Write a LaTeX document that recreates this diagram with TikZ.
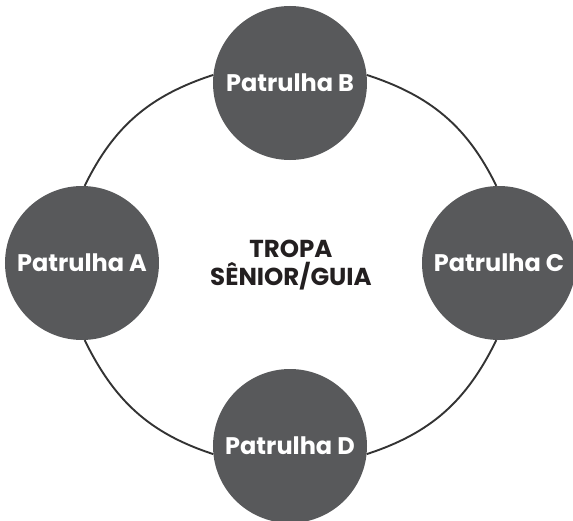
\documentclass[tikz,border=0pt]{standalone}
\usepackage{fontspec}
\setmainfont{Poppins}
\usepackage{tikz}
\definecolor{patrolgray}{HTML}{58595B}
\definecolor{ringgray}{HTML}{333333}
\definecolor{tropablack}{HTML}{231F20}

\begin{document}
\begin{tikzpicture}[x=1pt, y=1pt,
  patrol/.style={circle, fill=patrolgray, minimum size=154pt, inner sep=0pt, text=white, font=\bfseries\fontsize{24}{28}\selectfont},
  ring/.style={draw=ringgray, line width=1.9pt}]
  \useasboundingbox (-290,-257) rectangle (283,263);
  \node (tropa) [align=center, text=tropablack, font=\bfseries\fontsize{24.5}{28}\selectfont] at (1,-2) {TROPA\\SÊNIOR/GUIA};
  \node (patB) [patrol] at (0,180) {Patrulha B};
  \node (patA) [patrol] at (-208,0) {Patrulha A};
  \node (patC) [patrol] at (209,0) {Patrulha C};
  \node (patD) [patrol] at (0,-183) {Patrulha D};
  \draw[ring] (patB.174) to[out=198, in=64] (patA.88);
  \draw[ring] (patB.6) to[out=-18, in=116] (patC.92);
  \draw[ring] (patA.272) to[out=-64, in=162] (patD.186);
  \draw[ring] (patC.268) to[out=244, in=18] (patD.354);
\end{tikzpicture}
\end{document}
